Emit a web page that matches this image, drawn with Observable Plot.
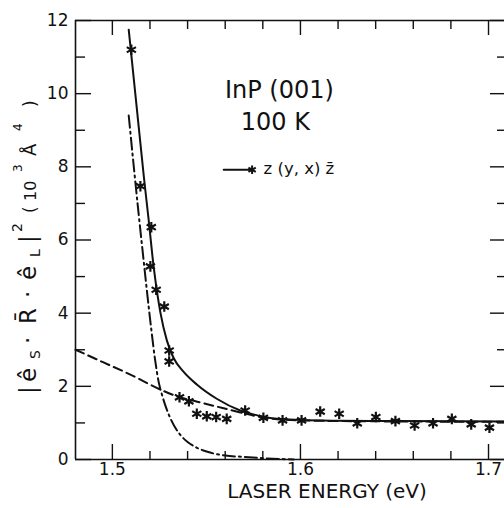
<!DOCTYPE html>
<html><head><meta charset="utf-8">
<script src="https://cdn.jsdelivr.net/npm/d3@7"></script>
<script src="https://cdn.jsdelivr.net/npm/@observablehq/plot@0.6"></script>
<style>body{margin:0;background:#fff;overflow:hidden}svg{display:block}</style>
</head><body><div id="chart"></div>
<script>
// measured points (asterisks)
const measEnergy = [1.5101,1.5149,1.5207,1.5202,1.5233,1.5276,1.5302,1.5302,1.5357,1.5407,1.5449,1.5502,1.5552,1.5608,1.5706,1.5803,1.5905,1.6006,1.6105,1.6206,1.6302,1.6401,1.6505,1.6607,1.6705,1.6805,1.6908,1.7005];
const measValue  = [11.2,7.47,6.35,5.28,4.64,4.18,2.98,2.68,1.70,1.59,1.25,1.18,1.16,1.11,1.34,1.14,1.07,1.07,1.31,1.25,0.99,1.16,1.05,0.93,0.99,1.11,0.96,0.87];
// solid curve
const solidEnergy = [1.5087,1.5127,1.5167,1.5194,1.5220,1.5240,1.5256,1.5290,1.5325,1.5378,1.5449,1.5555,1.5680,1.5760,1.5860,1.6000,1.6200,1.6500,1.7085];
const solidValue  = [11.75,9.75,7.75,6.5,5.25,4.5,4.0,3.25,2.78,2.40,2.05,1.66,1.34,1.22,1.12,1.08,1.06,1.05,1.04];
// dash-dot curve
const dashDotEnergy = [1.5087,1.5114,1.5140,1.5165,1.5185,1.5206,1.5229,1.5245,1.5265,1.5309,1.5360,1.5400,1.5450,1.5505,1.5600,1.5700,1.5820,1.5964];
const dashDotValue  = [9.40,8.0,6.7,5.5,4.55,3.6,2.66,2.15,1.75,1.12,0.68,0.48,0.32,0.21,0.11,0.07,0.03,0.0];
// dashed curve
const dashedEnergy = [1.4804,1.4950,1.5096,1.5256,1.5353,1.5451,1.5592,1.5717,1.5800,1.6000,1.6500,1.7085];
const dashedValue  = [3.0,2.66,2.32,1.91,1.71,1.58,1.40,1.24,1.15,1.07,1.04,1.03];
// ticks
const xDomain = [1.4804, 1.7085];
const yDomain = [0, 12];
const xMajor = [1.5, 1.6, 1.7];
const xMinor = [1.52,1.54,1.56,1.58,1.62,1.64,1.66,1.68];
const yMajor = [0,2,4,6,8,10,12];
const yMinor = [1,3,5,7,9,11];
// texts
const xTitle = "LASER ENERGY (eV)";
const annotations = [
  {label: "InP (001)", energy: 1.5888, value: 10.09},
  {label: "100 K", energy: 1.5867, value: 9.23}
];
const legendLabel = "z (y, x) z\u0304";
const legendLine = [{energy: 1.5592, value: 7.92}, {energy: 1.5734, value: 7.92}];
const legendStar = [{energy: 1.5743, value: 7.92}];
const legendText = [{energy: 1.5804, value: 7.96, label: legendLabel}];
// y-axis title pieces: text, offset along the label, font size, baseline shift
const yLabelParts = [
  {t: "|", at: -1, size: 23, shift: 0},
  {t: "\u00ea", at: 11, size: 23, shift: 0},
  {t: "S", at: 34, size: 14, shift: 4},
  {t: "\u00b7", at: 49, size: 23, shift: 0},
  {t: "R\u0304", at: 69, size: 23, shift: 0},
  {t: "\u00b7", at: 95, size: 23, shift: 0},
  {t: "\u00ea", at: 113, size: 23, shift: 0},
  {t: "L", at: 136, size: 14, shift: 4},
  {t: "|", at: 150, size: 23, shift: 0},
  {t: "2", at: 161, size: 14, shift: -14},
  {t: "(", at: 180, size: 17, shift: 0},
  {t: "10", at: 192, size: 16, shift: 0},
  {t: "3", at: 221, size: 12, shift: -14},
  {t: "\u00c5", at: 237, size: 18, shift: 0},
  {t: "4", at: 262, size: 12, shift: -14},
  {t: ")", at: 286, size: 17, shift: 0}
];

const zip = (xs, ys) => xs.map((x, i) => ({energy: x, value: ys[i]}));
const meas = zip(measEnergy, measValue);
const solid = zip(solidEnergy, solidValue);
const dashDot = zip(dashDotEnergy, dashDotValue);
const dashed = zip(dashedEnergy, dashedValue);

const W = 504, H = 508, mL = 75, mR = 0, mT = 20, mB = 49;
const pw = W - mL - mR, ph = H - mT - mB;
const ink = "#111";
const font = "'DejaVu Sans', Verdana, sans-serif";

const svg = Plot.plot({
  width: W, height: H,
  marginLeft: mL, marginRight: mR, marginTop: mT, marginBottom: mB,
  style: {fontFamily: font, fontSize: "16px", color: ink, background: "#fff"},
  x: {domain: xDomain, axis: null},
  y: {domain: yDomain, axis: null},
  marks: [
    // frame (left, bottom, top)
    Plot.ruleX([xDomain[0]], {stroke: ink, strokeWidth: 1.6}),
    Plot.ruleY([0, 12], {stroke: ink, strokeWidth: 1.6}),
    // inward ticks
    Plot.tickX(xMajor, {x: d => d, insetTop: ph - 15, stroke: ink, strokeWidth: 1.4}),
    Plot.tickX(xMinor, {x: d => d, insetTop: ph - 8, stroke: ink, strokeWidth: 1.4}),
    Plot.tickX(xMajor, {x: d => d, insetBottom: ph - 15, stroke: ink, strokeWidth: 1.4}),
    Plot.tickX(xMinor, {x: d => d, insetBottom: ph - 9, stroke: ink, strokeWidth: 1.4}),
    Plot.tickY(yMajor, {y: d => d, insetRight: pw - 16, stroke: ink, strokeWidth: 1.4}),
    Plot.tickY(yMinor, {y: d => d, insetRight: pw - 10, stroke: ink, strokeWidth: 1.4}),
    Plot.tickY(yMajor, {y: d => d, insetLeft: pw - 14, stroke: ink, strokeWidth: 1.4}),
    Plot.tickY(yMinor, {y: d => d, insetLeft: pw - 7, stroke: ink, strokeWidth: 1.4}),
    // tick labels
    Plot.axisX(xMajor, {anchor: "bottom", label: null, tickSize: 0, tickPadding: 3, tickFormat: d => d.toFixed(1), fontSize: 17, fill: ink}),
    Plot.axisY(yMajor, {anchor: "left", label: null, tickSize: 0, tickPadding: 7, tickFormat: d => String(d), fontSize: 17, fill: ink}),
    Plot.text([xTitle], {text: d => d, frameAnchor: "bottom", lineAnchor: "bottom", dy: 38, dx: 37, fontSize: 20, fill: ink}),
    // curves
    Plot.line(dashed, {x: "energy", y: "value", curve: "monotone-x", stroke: ink, strokeWidth: 2, strokeDasharray: "9,5"}),
    Plot.line(dashDot, {x: "energy", y: "value", curve: "monotone-x", stroke: ink, strokeWidth: 2, strokeDasharray: "12,4,2,4"}),
    Plot.line(solid, {x: "energy", y: "value", curve: "monotone-x", stroke: ink, strokeWidth: 2}),
    // measured
    Plot.dot(meas, {x: "energy", y: "value", symbol: "asterisk", r: 5, stroke: ink, strokeWidth: 2.2}),
    // annotations
    Plot.text(annotations, {x: "energy", y: "value", text: "label", fontSize: 24, fill: ink}),
    // legend
    Plot.line(legendLine, {x: "energy", y: "value", stroke: ink, strokeWidth: 2}),
    Plot.dot(legendStar, {x: "energy", y: "value", symbol: "asterisk", r: 4, stroke: ink, strokeWidth: 2}),
    Plot.text(legendText, {x: "energy", y: "value", text: "label", textAnchor: "start", fontSize: 16.5, fill: ink})
  ]
});

const lab = d3.select(svg).append("text")
  .attr("transform", "translate(36,393) rotate(-90)")
  .attr("text-anchor", "start")
  .attr("fill", ink)
  .style("font-family", font);
for (const p of yLabelParts) {
  lab.append("tspan").attr("x", p.at).attr("y", p.shift).attr("font-size", p.size).text(p.t);
}
document.getElementById("chart").appendChild(svg);
</script>
</body></html>
